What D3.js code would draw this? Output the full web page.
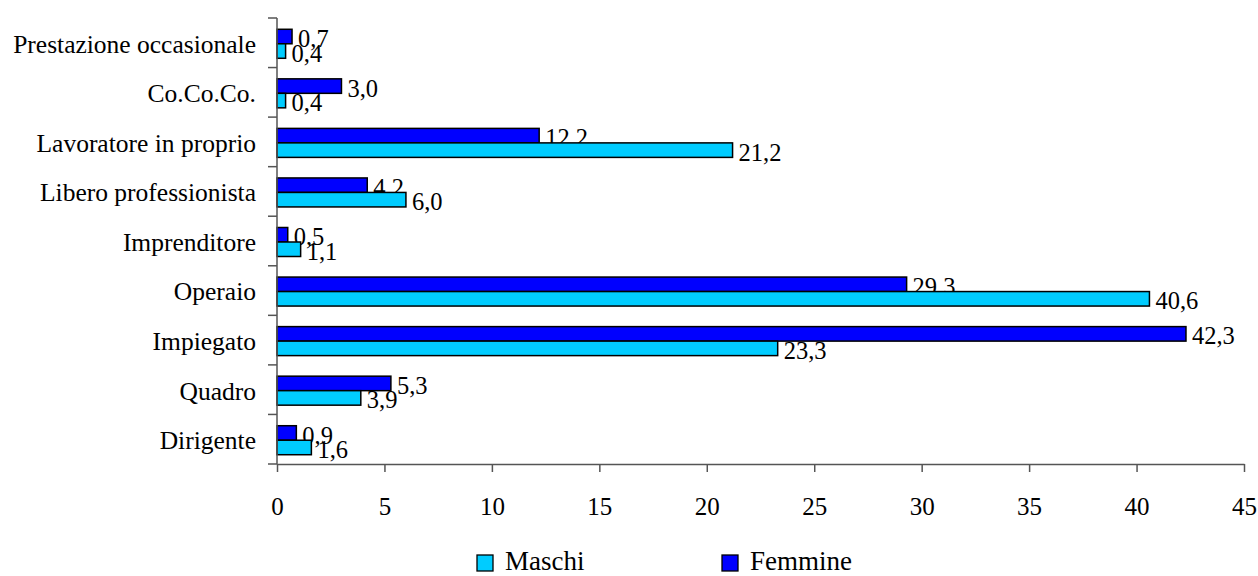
<!DOCTYPE html>
<html><head><meta charset="utf-8">
<script src="https://cdn.jsdelivr.net/npm/d3@7"></script>
<style>body{margin:0;background:#fff}svg{display:block}text{font-family:"Liberation Serif","Times New Roman",serif;fill:#000}</style>
</head><body><svg id="c" width="1258" height="576"></svg>
<script>
const categories = ["Prestazione occasionale","Co.Co.Co.","Lavoratore in proprio","Libero professionista","Imprenditore","Operaio","Impiegato","Quadro","Dirigente"];
const maschi = [0.4,0.4,21.2,6.0,1.1,40.6,23.3,3.9,1.6];
const femmine = [0.7,3.0,12.2,4.2,0.5,29.3,42.3,5.3,0.9];
const xTicks = [0,5,10,15,20,25,30,35,40,45];
const seriesNames = ["Maschi","Femmine"];
const colors = {Maschi:"#00CCFF", Femmine:"#0000FF"};

const svg = d3.select("#c");
const L = 277, R = 1244, T = 18, B = 464;
const x = d3.scaleLinear().domain([0,45]).range([L,R]);
const y = d3.scaleBand().domain(categories).range([T,B]);
const fmt = v => v.toFixed(1).replace(".",",");
const bh = 14.5;

const g = svg.append("g");
categories.forEach((c,i)=>{
  const cy = y(c) + y.bandwidth()/2 + 1;
  const rows = [{s:"Femmine",v:femmine[i],y0:cy-bh},{s:"Maschi",v:maschi[i],y0:cy}];
  rows.forEach(r=>{
    g.append("rect").attr("x",x(0)).attr("y",r.y0).attr("width",x(r.v)-x(0)).attr("height",bh)
      .attr("fill",colors[r.s]).attr("stroke","#000").attr("stroke-width",1.5);
    g.append("text").attr("x",x(r.v)+6).attr("y",r.y0+bh/2+2).attr("dy","0.35em")
      .attr("font-size",24.5).text(fmt(r.v));
  });
});

// axes
const xAxis = d3.axisBottom(x).tickValues(xTicks).tickSize(8).tickSizeOuter(0).tickFormat(d=>d);
const gx = svg.append("g").attr("transform",`translate(0,${B})`).call(xAxis);
gx.selectAll("text").attr("font-size",25).attr("dy","0.35em").attr("y",42).style("font-family","'Liberation Serif',serif");
gx.selectAll("line,path").attr("stroke","#555").attr("stroke-width",1.5);

const ticksY = d3.range(categories.length+1).map(i=>T + i*y.step());
svg.append("line").attr("x1",L).attr("x2",L).attr("y1",T).attr("y2",B).attr("stroke","#555").attr("stroke-width",1.5);
ticksY.forEach(t=>svg.append("line").attr("x1",L-9).attr("x2",L).attr("y1",t).attr("y2",t).attr("stroke","#555").attr("stroke-width",1.5));
categories.forEach(c=>{
  svg.append("text").attr("x",256).attr("y",y(c)+y.bandwidth()/2+1).attr("dy","0.35em")
    .attr("text-anchor","end").attr("font-size",25.5).text(c);
});

// legend
const leg = [{s:"Maschi",x:477},{s:"Femmine",x:722}];
leg.forEach(l=>{
  svg.append("rect").attr("x",l.x).attr("y",555).attr("width",16).attr("height",16)
    .attr("fill",colors[l.s]).attr("stroke","#000").attr("stroke-width",1.3);
  svg.append("text").attr("x",l.x+28).attr("y",570).attr("font-size",27).text(l.s);
});
</script></body></html>
